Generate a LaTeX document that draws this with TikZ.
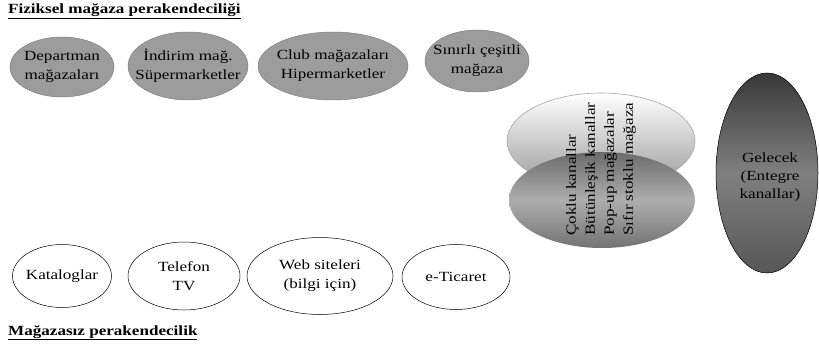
\documentclass[tikz,border=0pt]{standalone}
\usepackage{fontspec}
\setmainfont{Liberation Serif}[FakeStretch=1.22]

\begin{document}
\begin{tikzpicture}[x=1pt,y=-1pt,
  lbl/.style={align=center, inner sep=0pt, font=\fontsize{14}{19}\selectfont},
  head/.style={inner sep=0pt, font=\fontsize{14}{17}\selectfont\bfseries},
  fizik/.style={draw=black!50, fill=black!39, line width=0.5pt},
  mazsiz/.style={draw=black, fill=white, line width=0.5pt}]
\useasboundingbox (0,0) rectangle (819,350);

% fiziksel magaza
\node[head, anchor=base west] (fiz) at (8,14) {\underline{Fiziksel mağaza perakendeciliği}};
\draw[fizik] (62,67) ellipse [x radius=52, y radius=30];
\node[lbl] (dep) at (62,67) {Departman\\mağazaları};
\draw[fizik] (188,66) ellipse [x radius=60, y radius=34];
\node[lbl] (ind) at (188,66) {İndirim mağ.\\Süpermarketler};
\draw[fizik] (333,66) ellipse [x radius=75, y radius=34];
\node[lbl] (club) at (333,66) {Club mağazaları\\Hipermarketler};
\draw[fizik] (477,61) ellipse [x radius=52, y radius=31];
\node[lbl] (sin) at (477,61) {Sınırlı çeşitli\\mağaza};

% magazasiz
\node[head, anchor=base west] (maz) at (8,335) {\underline{Mağazasız perakendecilik}};
\draw[mazsiz] (62,276) ellipse [x radius=49.5, y radius=31.5];
\node[lbl] (kat) at (62,276) {Kataloglar};
\draw[mazsiz] (184,276) ellipse [x radius=56, y radius=34];
\node[lbl] (tel) at (184,276) {Telefon\\TV};
\draw[mazsiz] (320,276) ellipse [x radius=73, y radius=38.5];
\node[lbl] (web) at (320,276) {Web siteleri\\(bilgi için)};
\draw[mazsiz] (456,277) ellipse [x radius=54, y radius=32.5];
\node[lbl] (etic) at (456,277) {e-Ticaret};

% cok kanal (middle color has to come last)
\draw[draw=black!35, line width=0.6pt, top color=white, bottom color=black!40]
  (601,141) ellipse [x radius=94, y radius=48];
\path[top color=black!58, bottom color=black!55, middle color=black!32]
  (602,200) ellipse [x radius=93, y radius=48];
\node[lbl, rotate=90, align=left] (cok) at (601,169)
  {Çoklu kanallar\\Bütünleşik kanallar\\Pop-up mağazalar\\Sıfır stoklu mağaza};

% gelecek
\draw[draw=black, line width=0.5pt, top color=black!78, bottom color=black!66, middle color=black!50]
  (767,173) ellipse [x radius=51, y radius=100];
\node[lbl, font=\fontsize{14}{18}\selectfont] (gel) at (770,177) {Gelecek\\(Entegre\\kanallar)};
\end{tikzpicture}
\end{document}
